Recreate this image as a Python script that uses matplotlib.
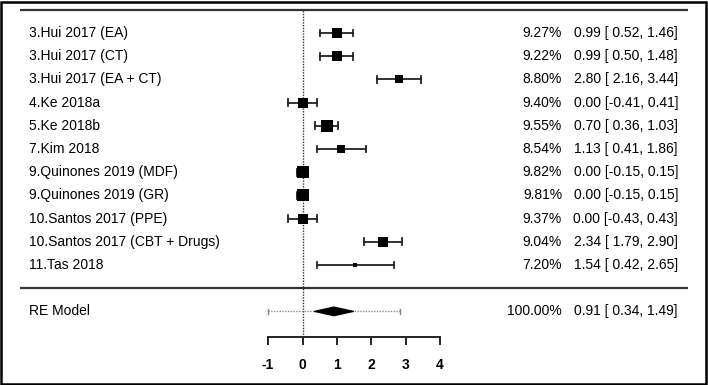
import numpy as np
import matplotlib.pyplot as plt
from matplotlib.patches import Polygon, Rectangle

plt.rcParams['font.family'] = ['Liberation Sans', 'DejaVu Sans']

studies = ['3.Hui 2017 (EA)', '3.Hui 2017 (CT)', '3.Hui 2017 (EA + CT)', '4.Ke 2018a',
           '5.Ke 2018b', '7.Kim 2018', '9.Quinones 2019 (MDF)', '9.Quinones 2019 (GR)',
           '10.Santos 2017 (PPE)', '10.Santos 2017 (CBT + Drugs)', '11.Tas 2018']
weights = [9.27, 9.22, 8.80, 9.40, 9.55, 8.54, 9.82, 9.81, 9.37, 9.04, 7.20]
est = [0.99, 0.99, 2.80, 0.00, 0.70, 1.13, 0.00, 0.00, 0.00, 2.34, 1.54]
lower = [0.52, 0.50, 2.16, -0.41, 0.36, 0.41, -0.15, -0.15, -0.43, 1.79, 0.42]
upper = [1.46, 1.48, 3.44, 0.41, 1.03, 1.86, 0.15, 0.15, 0.43, 2.90, 2.65]

re_label = 'RE Model'
re_weight = 100.00
re_est, re_lo, re_hi = 0.91, 0.34, 1.49
pi_lo, pi_hi = -1.01, 2.83
xticks = [-1, 0, 1, 2, 3, 4]

W, H = 708, 385
fig = plt.figure(figsize=(W / 100, H / 100), dpi=100)
ax = fig.add_axes([0, 0, 1, 1])

# pixel layout -> data coordinates
x0_px, unit_px = 302.5, 34.4
row1_px, row_px = 33, 23.2
ax.set_xlim((0 - x0_px) / unit_px, (W - x0_px) / unit_px)
k = len(studies)
ax.set_ylim(k - (H - row1_px) / row_px, k + row1_px / row_px)

rows = np.arange(k, 0, -1)
xl = (20 - x0_px) / unit_px
xr = (688 - x0_px) / unit_px
x_lab = (29 - x0_px) / unit_px
x_w = (562 - x0_px) / unit_px
x_est = (678 - x0_px) / unit_px
y_axis = -2.1

line_col = '#222222'
ax.plot([xl, xr], [k + 1, k + 1], color='#333333', lw=1.6, solid_capstyle='butt')
ax.plot([xl, xr], [0, 0], color='#333333', lw=1.6, solid_capstyle='butt')
ax.plot([0, 0], [y_axis, k + 1], color='#333333', lw=1.0, ls=(0, (1, 1)))

# marker sizes from weights
w = np.array(weights)
size_px = 4 + 8 * (w - w.min()) / (w.max() - w.min())
cap = 0.15
for i in range(k):
    y = rows[i]
    ax.plot([lower[i], upper[i]], [y, y], color=line_col, lw=1.3)
    for xc in (lower[i], upper[i]):
        ax.plot([xc, xc], [y - cap, y + cap], color=line_col, lw=1.3)
    ax.plot(est[i], y, marker='s', color='black', ms=size_px[i] * 0.72, mew=0, zorder=5)
    ax.text(x_lab, y, studies[i], ha='left', va='center', fontsize=10)
    ax.text(x_w, y, f'{weights[i]:.2f}%', ha='right', va='center', fontsize=10)
    ax.text(x_est, y, f'{est[i]:.2f} [{lower[i]:5.2f}, {upper[i]:.2f}]',
            ha='right', va='center', fontsize=10)

# RE model
yr = -1
ax.plot([pi_lo, pi_hi], [yr, yr], color='#888888', lw=1.0, ls=(0, (1, 1)))
for xc in (pi_lo, pi_hi):
    ax.plot([xc, xc], [yr - 0.1, yr + 0.1], color='#888888', lw=1.0)
dh = 0.19
ax.add_patch(Polygon([[re_lo, yr], [re_est, yr + dh], [re_hi, yr], [re_est, yr - dh]],
                     closed=True, facecolor='black', edgecolor='black', lw=0.8, zorder=5))
ax.text(x_lab, yr, re_label, ha='left', va='center', fontsize=10)
ax.text(x_w, yr, f'{re_weight:.2f}%', ha='right', va='center', fontsize=10)
ax.text(x_est, yr, f'{re_est:.2f} [{re_lo:5.2f}, {re_hi:.2f}]', ha='right', va='center', fontsize=10)

# x axis
for s in ['top', 'right', 'left']:
    ax.spines[s].set_visible(False)
ax.spines['bottom'].set_position(('data', y_axis))
ax.spines['bottom'].set_bounds(xticks[0], xticks[-1])
ax.spines['bottom'].set_linewidth(1.4)
ax.spines['bottom'].set_color(line_col)
ax.set_xticks(xticks)
ax.set_xticklabels([str(t) for t in xticks], fontweight='bold')
ax.tick_params(axis='x', direction='out', length=6, width=1.4, color=line_col,
               labelsize=10, pad=9)
ax.set_yticks([])
ax.patch.set_alpha(0)

fig.patches.append(Rectangle((1 / W, 1 / H), 1 - 3 / W, 1 - 3 / H, transform=fig.transFigure,
                             fill=False, edgecolor='black', lw=1.8))

fig.savefig('out.png', dpi=100, facecolor='white')
